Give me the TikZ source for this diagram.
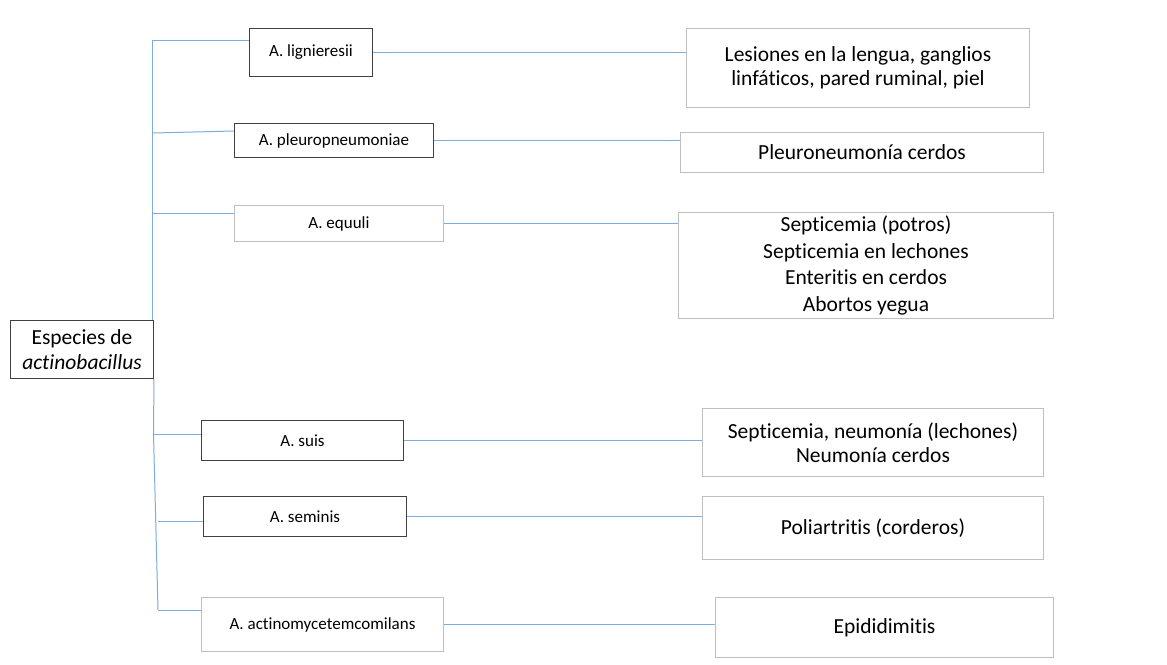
\documentclass[tikz,border=0pt]{standalone}
\usepackage{fontspec}
\setmainfont{Carlito}[Ligatures=NoCommon]
\begin{document}
\begin{tikzpicture}[x=1pt,y=-1pt,
  conn/.style={draw=linkblue,line width=1pt},
  sbox/.style={draw=#1,line width=1pt,anchor=north west,inner sep=0pt,align=center,font=\fontsize{17}{20}\selectfont,text=black},
  bbox/.style={draw=#1,line width=1pt,anchor=north west,inner sep=0pt,align=center,font=\fontsize{21.5}{24.5}\selectfont,text=black}]
\definecolor{linkblue}{RGB}{125,172,222}
\definecolor{darkb}{RGB}{64,64,64}
\definecolor{lightb}{RGB}{191,191,191}
\useasboundingbox[fill=white] (0,0) rectangle (1167,664);
% root
\node[bbox=darkb,minimum width=143pt,minimum height=58pt,font=\fontsize{21.5}{25.5}\selectfont] (root) at (10,320) {Especies de\\\textit{actinobacillus}};
% species
\node[sbox=darkb,minimum width=123pt,minimum height=48pt] (s1) at (249,28) {A. lignieresii};
\node[sbox=darkb,minimum width=199pt,minimum height=34pt] (s2) at (234,123) {A. pleuropneumoniae};
\node[sbox=lightb,minimum width=209pt,minimum height=36pt] (s3) at (234,205) {A. equuli};
\node[sbox=darkb,minimum width=202pt,minimum height=40pt] (s4) at (201,420) {A. suis};
\node[sbox=darkb,minimum width=203pt,minimum height=40pt] (s5) at (203,496) {A. seminis};
\node[sbox=lightb,minimum width=242pt,minimum height=54pt] (s6) at (201,597) {A. actinomycetemcomilans};
% diseases
\node[bbox=lightb,minimum width=343pt,minimum height=79pt] (d1) at (686,28) {Lesiones en la lengua, ganglios\\linfáticos, pared ruminal, piel};
\node[bbox=lightb,minimum width=363pt,minimum height=40pt] (d2) at (680,132) {Pleuroneumonía cerdos};
\node[bbox=lightb,minimum width=375pt,minimum height=106pt,font=\fontsize{21.5}{26.7}\selectfont] (d3) at (678,212) {Septicemia (potros)\\Septicemia en lechones\\Enteritis en cerdos\\Abortos yegua};
\node[bbox=lightb,minimum width=341pt,minimum height=68pt] (d4) at (702,408) {Septicemia, neumonía (lechones)\\Neumonía cerdos};
\node[bbox=lightb,minimum width=341pt,minimum height=63pt] (d5) at (702,496) {Poliartritis (corderos)};
\node[bbox=lightb,minimum width=338pt,minimum height=60pt] (d6) at (715,597) {Epididimitis};
% trunk points
\coordinate (t1) at (152.5,40);
\coordinate (t2) at (152.5,133);
\coordinate (t3) at (152.5,213);
\coordinate (t4) at (153.5,434);
\coordinate (t5) at (156.5,521);
\coordinate (t6) at (158,610);
\draw[conn] (t1) -- (t3) -- (t3 |- root.north);
\draw[conn] (root.south east) -- (t4) -- (t6);
\draw[conn] (t1) -- (t1 -| s1.west);
\draw[conn] (t2) -- ([yshift=2pt]t2 -| s2.west);
\draw[conn] (t3) -- (t3 -| s3.west);
\draw[conn] (t4) -- (t4 -| s4.west);
\draw[conn] (158,521) -- (t5 -| s5.west);
\draw[conn] (t6) -- (t6 -| s6.west);
\draw[conn] (s1.east) -- (s1.east -| d1.west);
\draw[conn] (s2.east) -- (s2.east -| d2.west);
\draw[conn] (s3.east) -- (s3.east -| d3.west);
\draw[conn] (s4.east) -- (s4.east -| d4.west);
\draw[conn] (s5.east) -- (s5.east -| d5.west);
\draw[conn] (s6.east) -- (s6.east -| d6.west);
\end{tikzpicture}
\end{document}
